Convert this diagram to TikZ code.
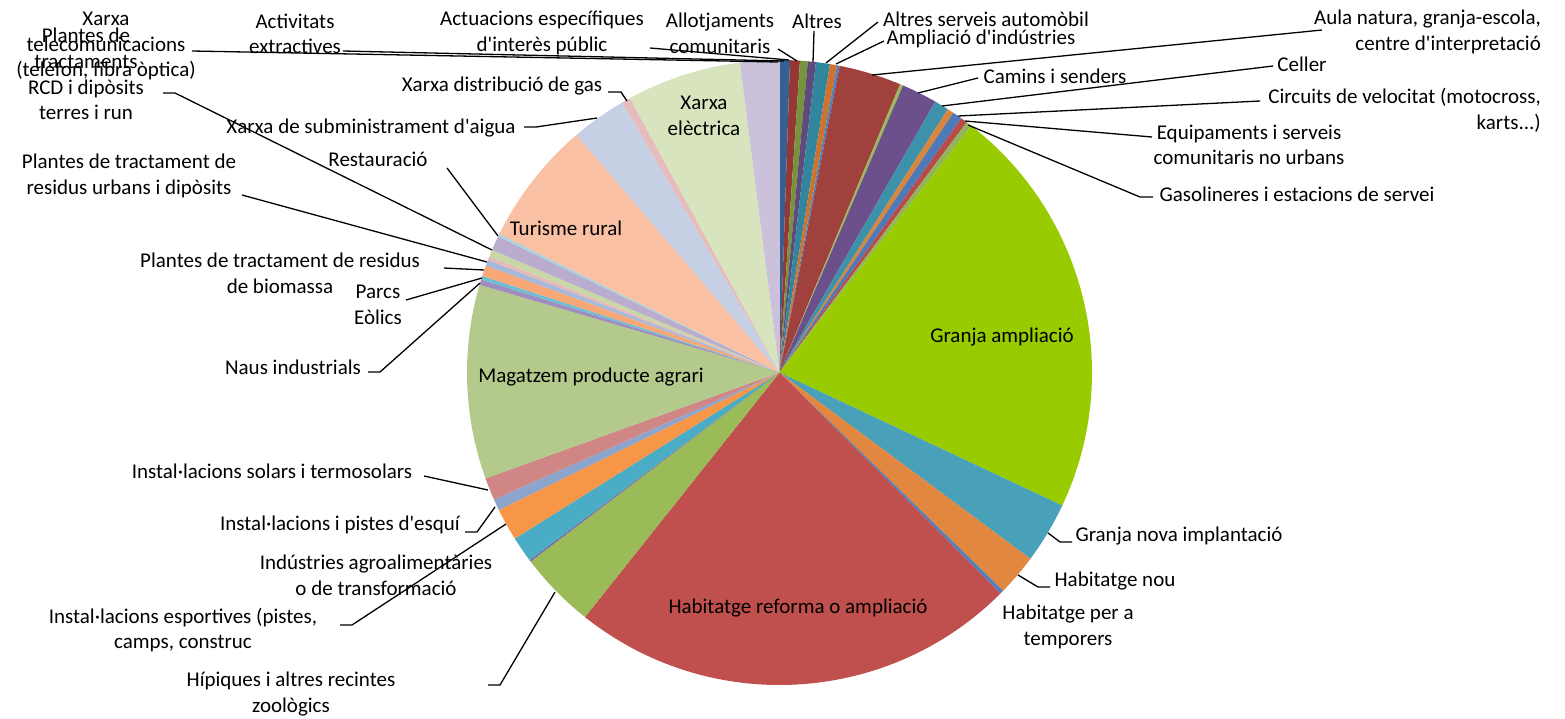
\documentclass[tikz,border=0pt]{standalone}
\usepackage{fontspec}
\setmainfont{Carlito}[Ligatures=TeXOff]
\definecolor{s1}{RGB}{55,96,146}
\definecolor{s2}{RGB}{149,55,53}
\definecolor{s3}{RGB}{119,147,60}
\definecolor{s4}{RGB}{96,74,123}
\definecolor{s5}{RGB}{49,133,156}
\definecolor{s6}{RGB}{205,115,45}
\definecolor{s7}{RGB}{79,129,189}
\definecolor{s8}{RGB}{160,65,62}
\definecolor{s9}{RGB}{155,187,89}
\definecolor{s10}{RGB}{107,80,140}
\definecolor{s11}{RGB}{62,145,170}
\definecolor{s12}{RGB}{217,133,59}
\definecolor{s13}{RGB}{79,122,184}
\definecolor{s14}{RGB}{184,74,72}
\definecolor{s15}{RGB}{147,181,90}
\definecolor{s16}{RGB}{153,204,0}
\definecolor{s17}{RGB}{73,160,185}
\definecolor{s18}{RGB}{226,135,64}
\definecolor{s19}{RGB}{79,129,189}
\definecolor{s20}{RGB}{192,80,77}
\definecolor{s21}{RGB}{155,187,89}
\definecolor{s22}{RGB}{128,100,162}
\definecolor{s23}{RGB}{75,172,198}
\definecolor{s24}{RGB}{247,150,70}
\definecolor{s25}{RGB}{140,165,205}
\definecolor{s26}{RGB}{207,134,132}
\definecolor{s27}{RGB}{180,201,140}
\definecolor{s28}{RGB}{160,140,190}
\definecolor{s29}{RGB}{111,189,209}
\definecolor{s30}{RGB}{248,168,119}
\definecolor{s31}{RGB}{167,185,218}
\definecolor{s32}{RGB}{230,185,184}
\definecolor{s33}{RGB}{200,215,165}
\definecolor{s34}{RGB}{185,172,205}
\definecolor{s35}{RGB}{165,213,226}
\definecolor{s36}{RGB}{250,192,163}
\definecolor{s37}{RGB}{198,208,228}
\definecolor{s38}{RGB}{230,189,188}
\definecolor{s39}{RGB}{215,228,189}
\definecolor{s40}{RGB}{204,193,218}
\begin{document}
\begin{tikzpicture}[x=1pt,y=-1pt,
  lbl/.style={font=\fontsize{21}{25.6}\selectfont, align=center, inner sep=0pt, text=black},
  leader/.style={draw=black, line width=1.3pt, line join=round}]
\useasboundingbox (0,0) rectangle (1565,718);
\fill[white] (0,0) rectangle (1565,718);
% slices (angles clockwise from 12 o'clock)
\foreach \s/\e/\c in {0/1.93/s1, 1.93/3.76/s2, 3.76/5.2/s3, 5.2/6.7/s4, 6.7/9.3/s5,
  9.3/10.6/s6, 10.6/11.1/s7, 11.1/22.7/s8, 22.7/23.3/s9, 23.3/29.9/s10,
  29.9/32.6/s11, 32.6/33.8/s12, 33.8/35.6/s13, 35.6/36.8/s14, 36.8/37.9/s15,
  37.9/115.2/s16, 115.2/126.6/s17, 126.6/134.3/s18, 134.3/135.0/s19, 135.0/218.5/s20,
  218.5/232.8/s21, 232.8/233.1/s22, 233.1/237.9/s23, 237.9/243.9/s24, 243.9/246.0/s25,
  246.0/250.2/s26, 250.2/286.3/s27, 286.3/287.3/s28, 287.3/288.0/s29, 288.0/290.0/s30,
  290.0/291.1/s31, 291.1/291.8/s32, 291.8/293.1/s33, 293.1/295.8/s34, 295.8/296.3/s35,
  296.3/319.5/s36, 319.5/329.8/s37, 329.8/331.4/s38, 331.4/352.7/s39, 352.7/360/s40}{
  \pgfmathsetmacro\aa{\s-90}
  \pgfmathsetmacro\bb{\e-90}
  \fill[fill=\c, shift={(779.5,372.5)}] (0,0) -- (\aa:312.5) arc[start angle=\aa, end angle=\bb, radius=312.5] -- cycle;
}
% labels
\node[lbl] (Ltel) at (106,46) {Xarxa\\telecomunicacions\\(telèfon, fibra òptica)};
\node[lbl] (Lrcd) at (86,74) {Plantes de\\tractaments\\RCD i dipòsits\\terres i run};
\node[lbl] (Lact) at (295,34) {Activitats\\extractives};
\node[lbl] (Lactu) at (542,33) {Actuacions específiques\\d'interès públic};
\node[lbl] (Lallo) at (720,33) {Allotjaments\\comunitaris};
\node[lbl] (Laltres) at (817,21) {Altres};
\node[lbl] (Lauto) at (986,19) {Altres serveis automòbil};
\node[lbl] (Lampl) at (981,39) {Ampliació d'indústries};
\node[lbl, align=right, anchor=east] (Laula) at (1541,32) {Aula natura, granja-escola,\\centre d'interpretació};
\node[lbl] (Lcamins) at (1055,76) {Camins i senders};
\node[lbl] (Lceller) at (1302,64) {Celler};
\node[lbl, align=right, anchor=east] (Lcirc) at (1541,110) {Circuits de velocitat (motocross,\\karts...)};
\node[lbl] (Lequip) at (1249,145) {Equipaments i serveis\\comunitaris no urbans};
\node[lbl] (Lgasol) at (1297,194) {Gasolineres i estacions de servei};
\node[lbl] (Lgranja) at (1002,337) {Granja ampliació};
\node[lbl] (Lnova) at (1179,536) {Granja nova implantació};
\node[lbl] (Lnou) at (1115,581) {Habitatge nou};
\node[lbl] (Ltemp) at (1068,627) {Habitatge per a\\temporers};
\node[lbl] (Lreforma) at (798,608) {Habitatge reforma o ampliació};
\node[lbl] (Lhip) at (291,694) {Hípiques i altres recintes\\zoològics};
\node[lbl] (Lind) at (376,575) {Indústries agroalimentàries\\o de transformació};
\node[lbl] (Lesport) at (183,630) {Instal·lacions esportives (pistes,\\camps, construc};
\node[lbl] (Lesqui) at (340,525) {Instal·lacions i pistes d'esquí};
\node[lbl] (Lsolar) at (272,471) {Instal·lacions solars i termosolars};
\node[lbl] (Lmag) at (591,377) {Magatzem producte agrari};
\node[lbl] (Lnaus) at (293,367) {Naus industrials};
\node[lbl] (Lparcs) at (378,305) {Parcs\\Eòlics};
\node[lbl] (Lbio) at (280,273) {Plantes de tractament de residus\\de biomassa};
\node[lbl] (Lurb) at (129,176) {Plantes de tractament de\\residus urbans i dipòsits};
\node[lbl] (Lrest) at (378,159) {Restauració};
\node[lbl] (Lturisme) at (566,228) {Turisme rural};
\node[lbl] (Laigua) at (371,128) {Xarxa de subministrament d'aigua};
\node[lbl] (Lgasx) at (502,86) {Xarxa distribució de gas};
\node[lbl] (Lelec) at (704,116) {Xarxa\\elèctrica};
% leader line coordinates
\coordinate (a-tel) at (192,51);   \coordinate (p-tel) at (778,62);
\coordinate (a-act) at (343,51);   \coordinate (p-act) at (784,61);
\coordinate (a-actu) at (650,48);  \coordinate (p-actu) at (789,60);
\coordinate (a-allo) at (778,49);  \coordinate (p-allo) at (797,61);
\coordinate (a-altres) at (814,31); \coordinate (p-altres) at (813,62);
\coordinate (a-auto) at (878,22);  \coordinate (p-auto) at (826,63);
\coordinate (a-ampl) at (884,41);  \coordinate (p-ampl) at (836,64);
\coordinate (a-aula) at (1322,30); \coordinate (p-aula) at (872,75);
\coordinate (a-camins) at (978,78); \coordinate (p-camins) at (918,93);
\coordinate (a-celler) at (1273,66); \coordinate (p-celler) at (942,106);
\coordinate (a-circ) at (1260,101); \coordinate (p-circ) at (958,116);
\coordinate (a-equip) at (1152,137); \coordinate (p-equip) at (965,121);
\coordinate (a-gasol) at (1153,197); \coordinate (e-gasol) at (1140,197); \coordinate (p-gasol) at (968,125);
\coordinate (a-nova) at (1072,542); \coordinate (e-nova) at (1060,542); \coordinate (p-nova) at (1048,533);
\coordinate (a-nou) at (1050,587); \coordinate (e-nou) at (1038,587); \coordinate (p-nou) at (1018,575);
\coordinate (a-hip) at (488,685); \coordinate (e-hip) at (500,685); \coordinate (p-hip) at (555,592);
\coordinate (a-esport) at (340,625); \coordinate (e-esport) at (352,625); \coordinate (p-esport) at (506,524);
\coordinate (a-esqui) at (465,532); \coordinate (e-esqui) at (477,532); \coordinate (p-esqui) at (495,507);
\coordinate (a-solar) at (424,476); \coordinate (p-solar) at (488,490);
\coordinate (a-naus) at (368,372); \coordinate (e-naus) at (380,372); \coordinate (p-naus) at (480,283);
\coordinate (a-parcs) at (406,300); \coordinate (p-parcs) at (482,278);
\coordinate (a-bio) at (444,268); \coordinate (p-bio) at (484,270);
\coordinate (a-urb) at (242,195); \coordinate (p-urb) at (487,262);
\coordinate (a-rcd) at (163,93); \coordinate (e-rcd) at (175,93); \coordinate (p-rcd) at (492,250);
\coordinate (a-rest) at (447,168); \coordinate (p-rest) at (498,236);
\coordinate (a-aigua) at (524,127); \coordinate (e-aigua) at (536,127); \coordinate (p-aigua) at (597,118);
\coordinate (a-gasx) at (608,92); \coordinate (e-gasx) at (621,92); \coordinate (p-gasx) at (627,101);
% leader lines
\draw[leader] (a-tel) -- (p-tel);
\draw[leader] (a-act) -- (p-act);
\draw[leader] (a-actu) -- (p-actu);
\draw[leader] (a-allo) -- (p-allo);
\draw[leader] (a-altres) -- (p-altres);
\draw[leader] (a-auto) -- (p-auto);
\draw[leader] (a-ampl) -- (p-ampl);
\draw[leader] (a-aula) -- (p-aula);
\draw[leader] (a-camins) -- (p-camins);
\draw[leader] (a-celler) -- (p-celler);
\draw[leader] (a-circ) -- (p-circ);
\draw[leader] (a-equip) -- (p-equip);
\draw[leader] (a-gasol) -- (e-gasol) -- (p-gasol);
\draw[leader] (a-nova) -- (e-nova) -- (p-nova);
\draw[leader] (a-nou) -- (e-nou) -- (p-nou);
\draw[leader] (a-hip) -- (e-hip) -- (p-hip);
\draw[leader] (a-esport) -- (e-esport) -- (p-esport);
\draw[leader] (a-esqui) -- (e-esqui) -- (p-esqui);
\draw[leader] (a-solar) -- (p-solar);
\draw[leader] (a-naus) -- (e-naus) -- (p-naus);
\draw[leader] (a-parcs) -- (p-parcs);
\draw[leader] (a-bio) -- (p-bio);
\draw[leader] (a-urb) -- (p-urb);
\draw[leader] (a-rcd) -- (e-rcd) -- (p-rcd);
\draw[leader] (a-rest) -- (p-rest);
\draw[leader] (a-aigua) -- (e-aigua) -- (p-aigua);
\draw[leader] (a-gasx) -- (e-gasx) -- (p-gasx);
\end{tikzpicture}
\end{document}
